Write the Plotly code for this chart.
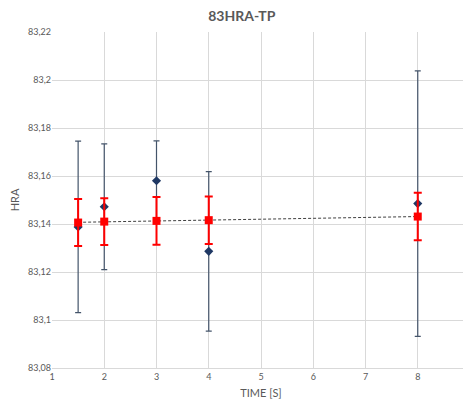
import numpy as np
import plotly.graph_objects as go

time_s = [1.5, 2, 3, 4, 8]
hra_blue = [83.1388, 83.1472, 83.158, 83.1286, 83.1485]
err_blue = [0.0357, 0.0262, 0.0166, 0.0332, 0.0553]
hra_red = [83.1406, 83.1410, 83.1413, 83.1416, 83.1431]
err_red = [0.0098, 0.0097, 0.0099, 0.0099, 0.0099]

coef = np.polyfit(time_s, hra_red, 1)
trend_x = [min(time_s), max(time_s)]
trend_y = [float(np.polyval(coef, v)) for v in trend_x]

fig = go.Figure()
fig.add_trace(go.Scatter(
    x=trend_x, y=trend_y, mode="lines",
    line=dict(color="#404040", width=1, dash="3px,2px"), showlegend=False))
fig.add_trace(go.Scatter(
    x=time_s, y=hra_blue, mode="markers",
    marker=dict(symbol="diamond", size=7, color="#1F3864"),
    error_y=dict(type="data", array=err_blue, visible=True, color="#44546A", thickness=1.2, width=3),
    showlegend=False))
fig.add_trace(go.Scatter(
    x=time_s, y=hra_red, mode="markers",
    marker=dict(symbol="square", size=8, color="#FF0000"),
    error_y=dict(type="data", array=err_red, visible=True, color="#FF0000", thickness=2, width=4),
    showlegend=False))

fig.update_layout(
    width=463, height=393,
    margin=dict(l=44, r=1, t=24, b=33),
    paper_bgcolor="white", plot_bgcolor="white",
    separators=",.",
    font=dict(family="Lato, Carlito, sans-serif", size=9, color="#595959"),
    title=dict(text="<b>83HRA-TP</b>", x=0.505, xanchor="center", y=0.98, yanchor="middle",
               font=dict(size=14, color="#595959")),
    xaxis=dict(range=[1, 9], dtick=1, tick0=1, showgrid=True, gridcolor="#D9D9D9",
               zeroline=False, showline=True, linecolor="#D9D9D9", ticks="", automargin=False,
               title=dict(text="TIME [S]", font=dict(size=11, color="#595959"), standoff=8)),
    yaxis=dict(range=[83.08, 83.22], dtick=0.02, tick0=83.08, showgrid=True, gridcolor="#D9D9D9",
               zeroline=False, showline=False, ticks="", automargin=False,
               title=dict(text="HRA", font=dict(size=11, color="#595959"), standoff=10)),
)
fig.write_html("out.html")
